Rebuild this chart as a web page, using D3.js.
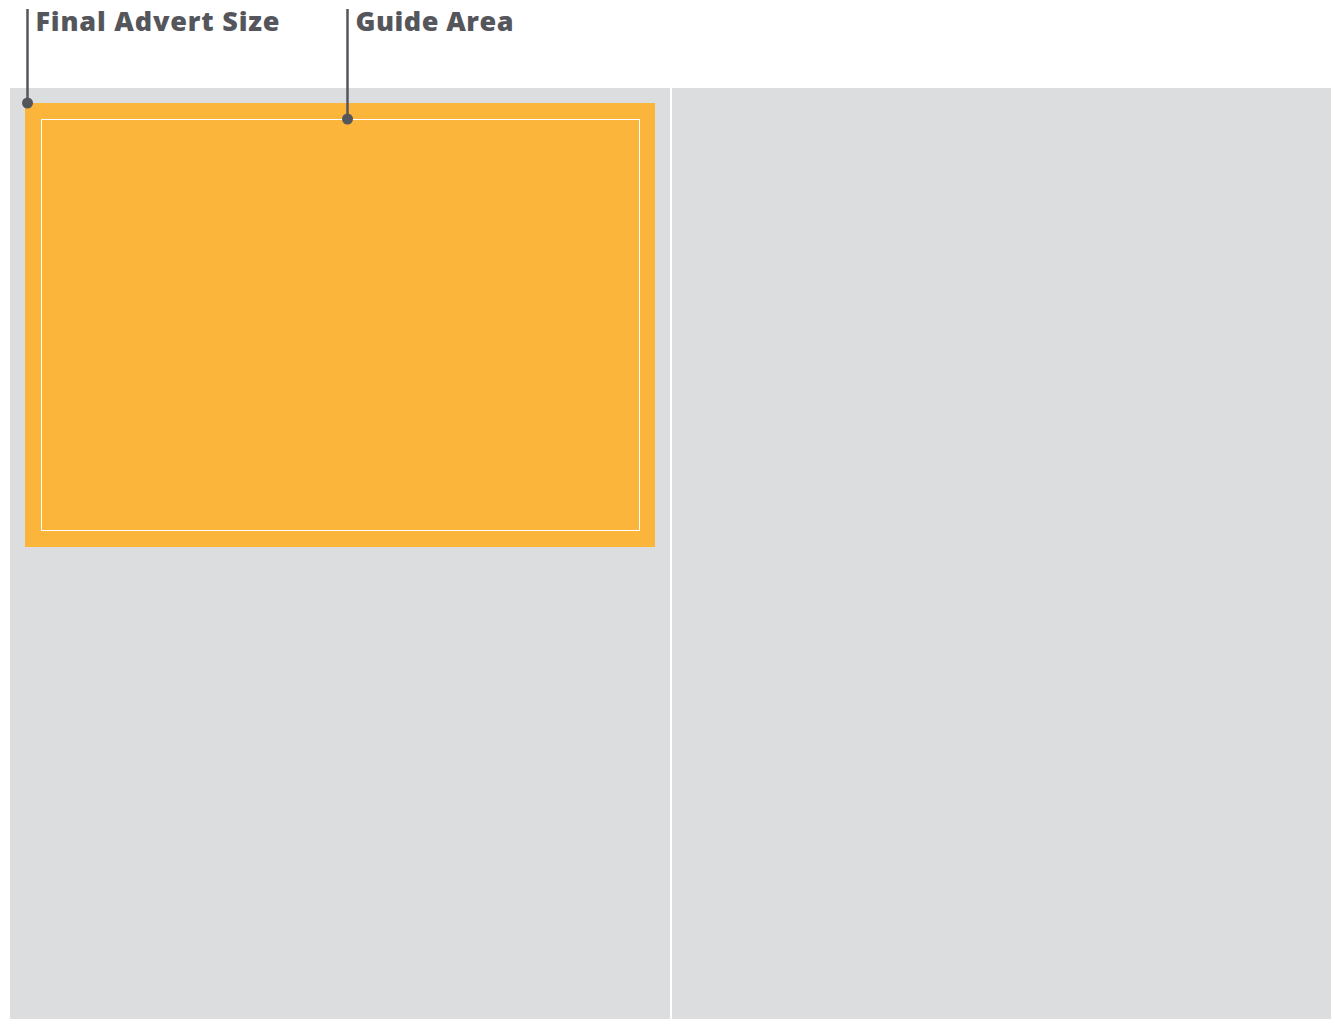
<!DOCTYPE html>
<html>
<head>
<meta charset="utf-8">
<script src="https://cdn.jsdelivr.net/npm/d3@7"></script>
<style>
  body { margin: 0; background: #fff; }
  svg { display: block; }
</style>
</head>
<body>
<div id="advert"></div>
<script>
// spread measured in layout units (origin = top-left of the spread)
var pages = [
  {name: "left",  x0: 0,   x1: 660, y0: 0, y1: 931},
  {name: "right", x0: 662, x1: 1321, y0: 0, y1: 931}
];
var advertBox = [{name: "Final Advert Size", x0: 15, x1: 645, y0: 15, y1: 459}];
var guideBox = [{name: "Guide Area", x0: 31.5, x1: 629.5, y0: 31.5, y1: 442.5}];
var labels = ["Final Advert Size", "Guide Area"];
var labelAnchors = [{x: 17.5, y: 15}, {x: 337.5, y: 31}];
var labelWidths = [244, 158];

var svg = d3.select("#advert").append("svg")
    .attr("width", 1342)
    .attr("height", 1019);

var x = d3.scaleLinear().domain([0, 1321]).range([10, 1331]),
    y = d3.scaleLinear().domain([0, 931]).range([88, 1019]);

var ink = "#55565c";

svg.selectAll(".page")
  .data(pages)
  .enter().append("rect")
    .attr("class", "page")
    .attr("x", function(d) { return x(d.x0); })
    .attr("y", function(d) { return y(d.y0); })
    .attr("width", function(d) { return x(d.x1) - x(d.x0); })
    .attr("height", function(d) { return y(d.y1) - y(d.y0); })
    .attr("fill", "#dcdddf");

svg.selectAll(".advert")
  .data(advertBox)
  .enter().append("rect")
    .attr("class", "advert")
    .attr("x", function(d) { return x(d.x0); })
    .attr("y", function(d) { return y(d.y0); })
    .attr("width", function(d) { return x(d.x1) - x(d.x0); })
    .attr("height", function(d) { return y(d.y1) - y(d.y0); })
    .attr("fill", "#fbb53a");

svg.selectAll(".guide")
  .data(guideBox)
  .enter().append("rect")
    .attr("class", "guide")
    .attr("x", function(d) { return x(d.x0); })
    .attr("y", function(d) { return y(d.y0); })
    .attr("width", function(d) { return x(d.x1) - x(d.x0); })
    .attr("height", function(d) { return y(d.y1) - y(d.y0); })
    .attr("fill", "none")
    .attr("stroke", "#fff")
    .attr("stroke-width", 1);

var callout = svg.selectAll(".callout")
  .data(labels.map(function(t, i) { return {text: t, anchor: labelAnchors[i], w: labelWidths[i]}; }))
  .enter().append("g")
    .attr("class", "callout");

callout.append("line")
    .attr("x1", function(d) { return x(d.anchor.x); })
    .attr("x2", function(d) { return x(d.anchor.x); })
    .attr("y1", 9)
    .attr("y2", function(d) { return y(d.anchor.y); })
    .attr("stroke", ink)
    .attr("stroke-width", 2.5);

callout.append("circle")
    .attr("cx", function(d) { return x(d.anchor.x); })
    .attr("cy", function(d) { return y(d.anchor.y); })
    .attr("r", 5.5)
    .attr("fill", ink);

callout.append("text")
    .attr("x", function(d) { return x(d.anchor.x) + 8; })
    .attr("y", 30.5)
    .attr("textLength", function(d) { return d.w; })
    .attr("lengthAdjust", "spacing")
    .style("font", "800 27px 'Open Sans', sans-serif")
    .attr("fill", ink)
    .text(function(d) { return d.text; });
</script>
</body>
</html>
